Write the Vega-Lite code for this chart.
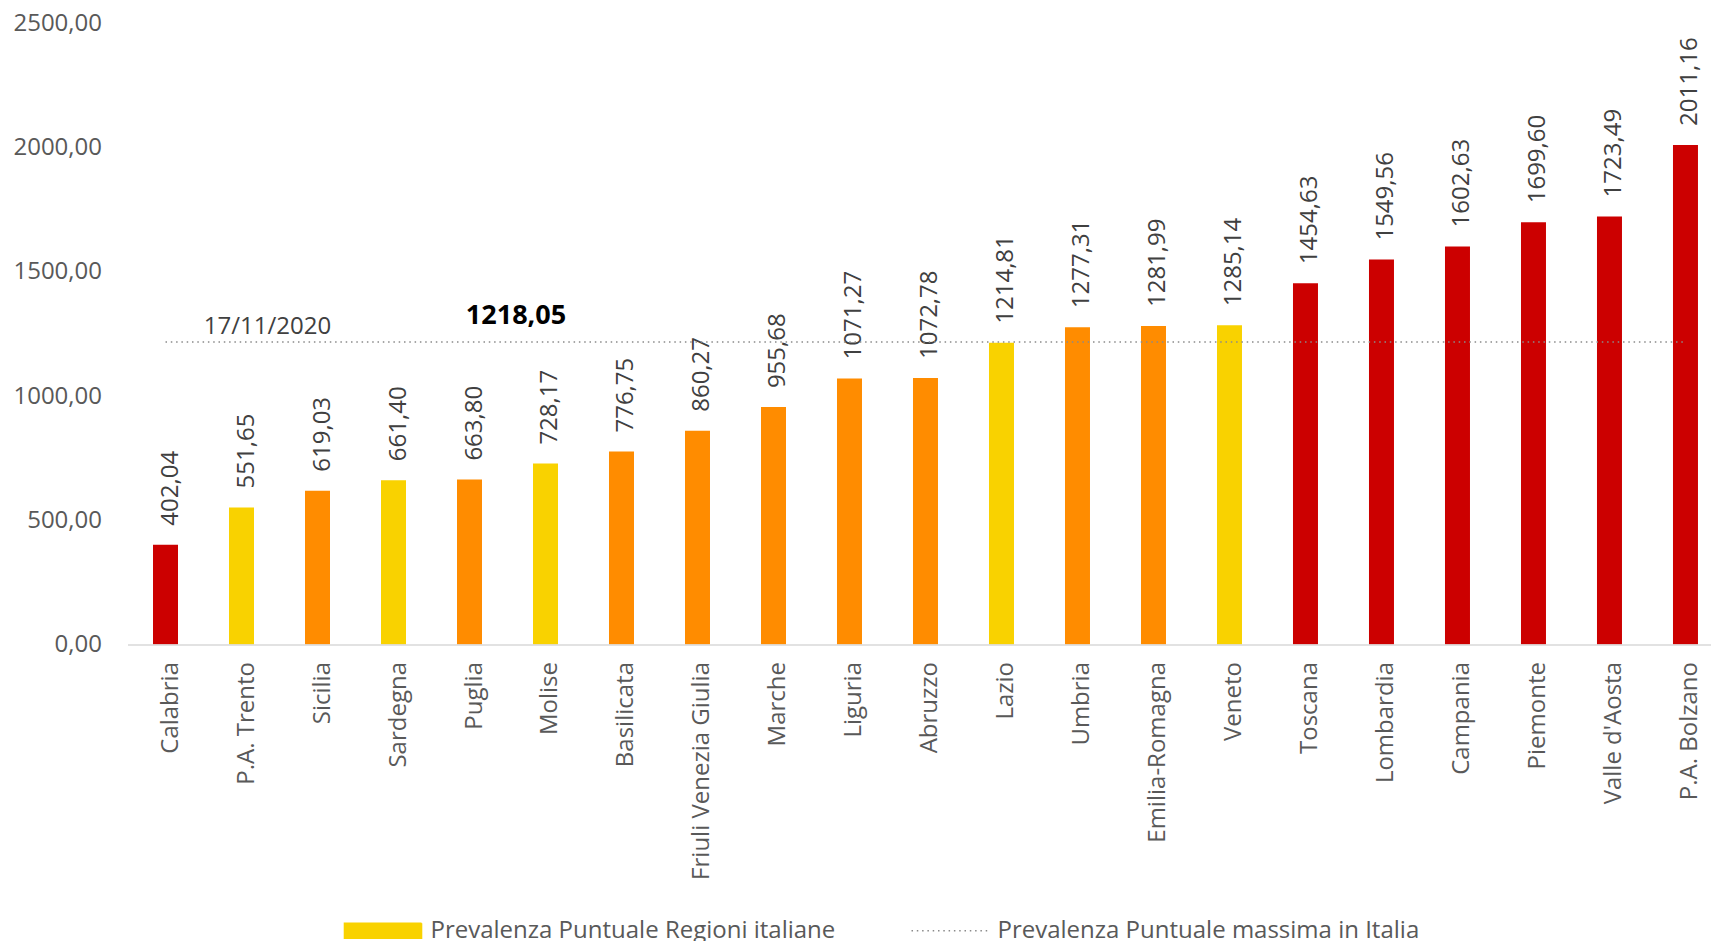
{
  "$schema": "https://vega.github.io/schema/vega-lite/v6.json",
  "width": 1583.5,
  "height": 621,
  "autosize": {"type": "none"},
  "padding": {"left": 127.5, "top": 23.5, "right": 0, "bottom": 296.5},
  "background": "white",
  "config": {
    "font": "Open Sans",
    "view": {"stroke": null},
    "locale": {"number": {"decimal": ",", "thousands": ".", "grouping": [3], "currency": ["", " €"]}}
  },
  "datasets": {
    "regioni": [
      {"regione": "Calabria", "valore": 402.04, "zona": "rossa"},
      {"regione": "P.A. Trento", "valore": 551.65, "zona": "gialla"},
      {"regione": "Sicilia", "valore": 619.03, "zona": "arancione"},
      {"regione": "Sardegna", "valore": 661.40, "zona": "gialla"},
      {"regione": "Puglia", "valore": 663.80, "zona": "arancione"},
      {"regione": "Molise", "valore": 728.17, "zona": "gialla"},
      {"regione": "Basilicata", "valore": 776.75, "zona": "arancione"},
      {"regione": "Friuli Venezia Giulia", "valore": 860.27, "zona": "arancione"},
      {"regione": "Marche", "valore": 955.68, "zona": "arancione"},
      {"regione": "Liguria", "valore": 1071.27, "zona": "arancione"},
      {"regione": "Abruzzo", "valore": 1072.78, "zona": "arancione"},
      {"regione": "Lazio", "valore": 1214.81, "zona": "gialla"},
      {"regione": "Umbria", "valore": 1277.31, "zona": "arancione"},
      {"regione": "Emilia-Romagna", "valore": 1281.99, "zona": "arancione"},
      {"regione": "Veneto", "valore": 1285.14, "zona": "gialla"},
      {"regione": "Toscana", "valore": 1454.63, "zona": "rossa"},
      {"regione": "Lombardia", "valore": 1549.56, "zona": "rossa"},
      {"regione": "Campania", "valore": 1602.63, "zona": "rossa"},
      {"regione": "Piemonte", "valore": 1699.60, "zona": "rossa"},
      {"regione": "Valle d'Aosta", "valore": 1723.49, "zona": "rossa"},
      {"regione": "P.A. Bolzano", "valore": 2011.16, "zona": "rossa"}
    ],
    "massimo": [
      {"regione": "Calabria", "valore": 1218.05, "serie": "Prevalenza Puntuale massima in Italia"},
      {"regione": "P.A. Bolzano", "valore": 1218.05, "serie": "Prevalenza Puntuale massima in Italia"}
    ],
    "note": [
      {"regione": "P.A. Trento", "valore": 1218.05, "testo": "17/11/2020", "tipo": "data"},
      {"regione": "Puglia", "valore": 1218.05, "testo": "1218,05", "tipo": "max"}
    ]
  },
  "encoding": {
    "x": {
      "field": "regione", "type": "nominal", "title": null,
      "scale": {
        "domain": ["Calabria", "P.A. Trento", "Sicilia", "Sardegna", "Puglia", "Molise", "Basilicata", "Friuli Venezia Giulia", "Marche", "Liguria", "Abruzzo", "Lazio", "Umbria", "Emilia-Romagna", "Veneto", "Toscana", "Lombardia", "Campania", "Piemonte", "Valle d'Aosta", "P.A. Bolzano"],
        "paddingInner": 0.6711, "paddingOuter": 0.2535, "align": 0.662
      },
      "axis": {
        "labelAngle": -90, "labelFontSize": 24, "labelColor": "#595959", "labelPadding": 17,
        "labelOffset": 5, "ticks": false, "tickSize": 0, "domainColor": "#d9d9d9", "domainWidth": 1.5,
        "labelLimit": 400, "zindex": 1
      }
    },
    "y": {
      "field": "valore", "type": "quantitative", "title": null,
      "scale": {"domain": [0, 2500], "nice": false, "zero": true},
      "axis": {
        "values": [0, 500, 1000, 1500, 2000, 2500], "format": ".2f", "labelFontSize": 24,
        "labelColor": "#595959", "labelPadding": 26, "ticks": false, "tickSize": 0,
        "domain": false, "grid": false
      }
    }
  },
  "layer": [
    {
      "data": {"name": "regioni"},
      "mark": {"type": "bar"},
      "encoding": {
        "fill": {
          "field": "zona", "type": "nominal", "legend": null,
          "scale": {"domain": ["rossa", "arancione", "gialla"], "range": ["#CC0000", "#FF8C00", "#F9D200"]}
        }
      }
    },
    {
      "data": {"name": "regioni"},
      "mark": {"type": "text", "angle": 270, "align": "left", "baseline": "alphabetic", "dx": 19, "dy": 12, "fontSize": 24, "color": "#404040"},
      "encoding": {"text": {"field": "valore", "type": "quantitative", "format": ".2f"}}
    },
    {
      "data": {"name": "massimo"},
      "mark": {"type": "line", "strokeDash": [1.5, 3.8], "strokeWidth": 1.6},
      "encoding": {
        "color": {
          "field": "serie", "type": "nominal",
          "scale": {"domain": ["Prevalenza Puntuale Regioni italiane", "Prevalenza Puntuale massima in Italia"], "range": ["#F9D200", "#8a8a8a"]},
          "legend": {
            "title": null, "orient": "none", "direction": "horizontal", "legendX": 216, "legendY": 867.5,
            "labelFontSize": 24, "labelColor": "#595959", "labelOffset": 8, "columnPadding": 72,
            "symbolSize": 5929, "labelLimit": 600,
            "encode": {
              "symbols": {
                "update": {
                  "shape": {"signal": "datum.value == 'Prevalenza Puntuale massima in Italia' ? 'M-1,0H1' : 'M-1,-0.195H1V0.195H-1Z'"},
                  "fill": {"signal": "datum.value == 'Prevalenza Puntuale massima in Italia' ? 'transparent' : '#F9D200'"},
                  "stroke": {"signal": "datum.value == 'Prevalenza Puntuale massima in Italia' ? '#8a8a8a' : 'transparent'"},
                  "strokeDash": {"signal": "datum.value == 'Prevalenza Puntuale massima in Italia' ? [1.5, 3.8] : [1, 0]"},
                  "strokeWidth": {"value": 1.6},
                  "size": {"value": 5929},
                  "opacity": {"value": 1}
                }
              }
            }
          }
        }
      }
    },
    {
      "data": {"name": "note"},
      "transform": [{"filter": "datum.tipo == 'data'"}],
      "mark": {"type": "text", "align": "center", "baseline": "alphabetic", "dx": 26, "dy": -7.5, "fontSize": 24, "color": "#404040"},
      "encoding": {"text": {"field": "testo", "type": "nominal"}}
    },
    {
      "data": {"name": "note"},
      "transform": [{"filter": "datum.tipo == 'max'"}],
      "mark": {"type": "text", "align": "center", "baseline": "alphabetic", "dx": 46.5, "dy": -18, "fontSize": 27, "fontWeight": "bold", "color": "#000000"},
      "encoding": {"text": {"field": "testo", "type": "nominal"}}
    }
  ]
}
